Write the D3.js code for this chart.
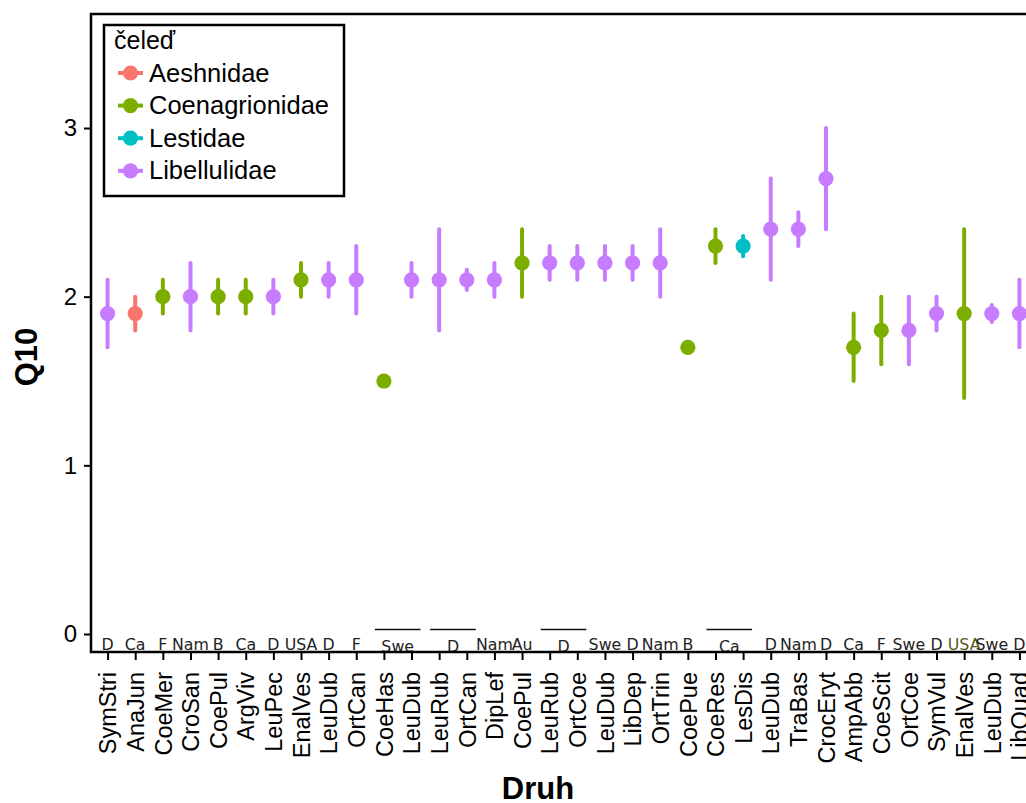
<!DOCTYPE html>
<html>
<head>
<meta charset="utf-8">
<script src="https://d3js.org/d3.v7.min.js"></script>
<style>
  body { margin: 0; background: #fff; }
  svg { font-family: "Liberation Sans", Arial, sans-serif; }
</style>
</head>
<body>
<svg id="chart" width="1026" height="803"></svg>
<script>
// species (x categories), in plotted order
const species = ["SymStri", "AnaJun", "CoeMer", "CroSan", "CoePul", "ArgViv", "LeuPec", "EnalVes", "LeuDub", "OrtCan",
  "CoeHas", "LeuDub", "LeuRub", "OrtCan", "DipLef", "CoePul", "LeuRub", "OrtCoe", "LeuDub", "LibDep",
  "OrtTrin", "CoePue", "CoeRes", "LesDis", "LeuDub", "TraBas", "CrocEryt", "AmpAbb", "CoeScit", "OrtCoe",
  "SymVul", "EnalVes", "LeuDub", "LibQuad"];
const family = ["Libellulidae", "Aeshnidae", "Coenagrionidae", "Libellulidae", "Coenagrionidae", "Coenagrionidae", "Libellulidae", "Coenagrionidae", "Libellulidae", "Libellulidae",
  "Coenagrionidae", "Libellulidae", "Libellulidae", "Libellulidae", "Libellulidae", "Coenagrionidae", "Libellulidae", "Libellulidae", "Libellulidae", "Libellulidae",
  "Libellulidae", "Coenagrionidae", "Coenagrionidae", "Lestidae", "Libellulidae", "Libellulidae", "Libellulidae", "Coenagrionidae", "Coenagrionidae", "Libellulidae",
  "Libellulidae", "Coenagrionidae", "Libellulidae", "Libellulidae"];
const q10 = [1.9, 1.9, 2.0, 2.0, 2.0, 2.0, 2.0, 2.1, 2.1, 2.1,
  1.5, 2.1, 2.1, 2.1, 2.1, 2.2, 2.2, 2.2, 2.2, 2.2,
  2.2, 1.7, 2.3, 2.3, 2.4, 2.4, 2.7, 1.7, 1.8, 1.8,
  1.9, 1.9, 1.9, 1.9];
const q10Low = [1.7, 1.8, 1.9, 1.8, 1.9, 1.9, 1.9, 2.0, 2.0, 1.9,
  null, 2.0, 1.8, 2.04, 2.0, 2.0, 2.1, 2.1, 2.1, 2.1,
  2.0, null, 2.2, 2.24, 2.1, 2.3, 2.4, 1.5, 1.6, 1.6,
  1.8, 1.4, 1.85, 1.7];
const q10High = [2.1, 2.0, 2.1, 2.2, 2.1, 2.1, 2.1, 2.2, 2.2, 2.3,
  null, 2.2, 2.4, 2.16, 2.2, 2.4, 2.3, 2.3, 2.3, 2.3,
  2.4, null, 2.4, 2.36, 2.7, 2.5, 3.0, 1.9, 2.0, 2.0,
  2.0, 2.4, 1.95, 2.1];
// country labels: [first index, last index, text]
const countries = [[0, 0, "D"], [1, 1, "Ca"], [2, 2, "F"], [3, 3, "Nam"], [4, 4, "B"], [5, 5, "Ca"], [6, 6, "D"], [7, 7, "USA"],
  [8, 8, "D"], [9, 9, "F"], [10, 11, "Swe"], [12, 13, "D"], [14, 14, "Nam"], [15, 15, "Au"], [16, 17, "D"], [18, 18, "Swe"],
  [19, 19, "D"], [20, 20, "Nam"], [21, 21, "B"], [22, 23, "Ca"], [24, 24, "D"], [25, 25, "Nam"], [26, 26, "D"], [27, 27, "Ca"],
  [28, 28, "F"], [29, 29, "Swe"], [30, 30, "D"], [31, 31, "USA"], [32, 32, "Swe"], [33, 33, "D"]];
const families = ["Aeshnidae", "Coenagrionidae", "Lestidae", "Libellulidae"];
const yTicks = [0, 1, 2, 3];

const svg = d3.select("#chart");
const panel = { left: 91, top: 14, right: 1036, bottom: 652 };

const x = d3.scalePoint().domain(d3.range(species.length))
  .range([panel.left, panel.right]).padding(0.6);
const y = d3.scaleLinear().domain([-0.1067, 3.676]).range([panel.bottom, panel.top]);
const color = d3.scaleOrdinal().domain(families)
  .range(["#F8766D", "#7CAE00", "#00BFC4", "#C77CFF"]);

const data = species.map((s, i) => ({ i: i, name: s, fam: family[i], v: q10[i], lo: q10Low[i], hi: q10High[i] }));

// error bars
svg.append("g").selectAll("line")
  .data(data.filter(d => d.lo != null))
  .join("line")
  .attr("x1", d => x(d.i)).attr("x2", d => x(d.i))
  .attr("y1", d => y(d.lo)).attr("y2", d => y(d.hi))
  .attr("stroke", d => color(d.fam))
  .attr("stroke-width", 4)
  .attr("stroke-linecap", "round");

svg.append("g").selectAll("circle")
  .data(data)
  .join("circle")
  .attr("cx", d => x(d.i)).attr("cy", d => y(d.v))
  .attr("r", 7.6)
  .attr("fill", d => color(d.fam));

// country labels inside the panel
const ctry = svg.append("g").attr("font-family", "DejaVu Sans, sans-serif").attr("font-size", 15.8);
countries.forEach(c => {
  const cx = (x(c[0]) + x(c[1])) / 2;
  const grouped = c[1] > c[0];
  ctry.append("text")
    .attr("x", cx)
    .attr("y", grouped ? 651.5 : 650)
    .attr("text-anchor", "middle")
    .attr("fill", c[0] === 31 ? "#545a25" : "#222")
    .text(c[2]);
  if (grouped) {
    ctry.append("line")
      .attr("x1", x(c[0]) - 9).attr("x2", x(c[1]) + 9)
      .attr("y1", 629.5).attr("y2", 629.5)
      .attr("stroke", "#111").attr("stroke-width", 1.5);
  }
});

// panel border
svg.append("rect")
  .attr("x", panel.left).attr("y", panel.top)
  .attr("width", panel.right - panel.left).attr("height", panel.bottom - panel.top)
  .attr("fill", "none").attr("stroke", "#000").attr("stroke-width", 2.5);

// y axis
const yAxis = svg.append("g")
  .attr("transform", `translate(${panel.left - 1},0)`)
  .call(d3.axisLeft(y).tickValues(yTicks).tickSize(6).tickPadding(7).tickFormat(d3.format("d")));
yAxis.select(".domain").remove();
yAxis.selectAll("line").attr("stroke", "#000").attr("stroke-width", 2);
yAxis.selectAll("text").attr("font-size", 24).attr("fill", "#000")
  .attr("font-family", "Liberation Sans, Arial, sans-serif");

// x axis
const xAxis = svg.append("g")
  .attr("transform", `translate(0,${panel.bottom + 1})`)
  .call(d3.axisBottom(x).tickSize(7).tickFormat(i => species[i]));
xAxis.select(".domain").remove();
xAxis.selectAll("line").attr("stroke", "#000").attr("stroke-width", 2);
xAxis.selectAll("text")
  .attr("font-size", 23.5).attr("fill", "#000")
  .attr("font-family", "Liberation Sans, Arial, sans-serif")
  .attr("transform", "rotate(-90)")
  .attr("text-anchor", "end")
  .attr("x", -19).attr("y", 0).attr("dy", "0.35em");

// axis titles
svg.append("text")
  .attr("x", 538).attr("y", 799)
  .attr("text-anchor", "middle")
  .attr("font-size", 31).attr("font-weight", "bold")
  .text("Druh");
svg.append("text")
  .attr("transform", "translate(37,357) rotate(-90)")
  .attr("text-anchor", "middle")
  .attr("font-size", 31).attr("font-weight", "bold")
  .text("Q10");

// legend
const legend = svg.append("g");
legend.append("rect")
  .attr("x", 104).attr("y", 25).attr("width", 240).attr("height", 171)
  .attr("fill", "#fff").attr("stroke", "#000").attr("stroke-width", 2.5);
legend.append("text")
  .attr("x", 114).attr("y", 49)
  .attr("font-size", 25)
  .text("čeleď");
families.forEach((f, i) => {
  const cy = 73 + i * 32.6;
  legend.append("line")
    .attr("x1", 118).attr("x2", 143).attr("y1", cy).attr("y2", cy)
    .attr("stroke", color(f)).attr("stroke-width", 4);
  legend.append("circle")
    .attr("cx", 130.5).attr("cy", cy).attr("r", 7.6)
    .attr("fill", color(f));
  legend.append("text")
    .attr("x", 149).attr("y", cy + 8.5)
    .attr("font-size", 25.5)
    .text(f);
});
</script>
</body>
</html>
